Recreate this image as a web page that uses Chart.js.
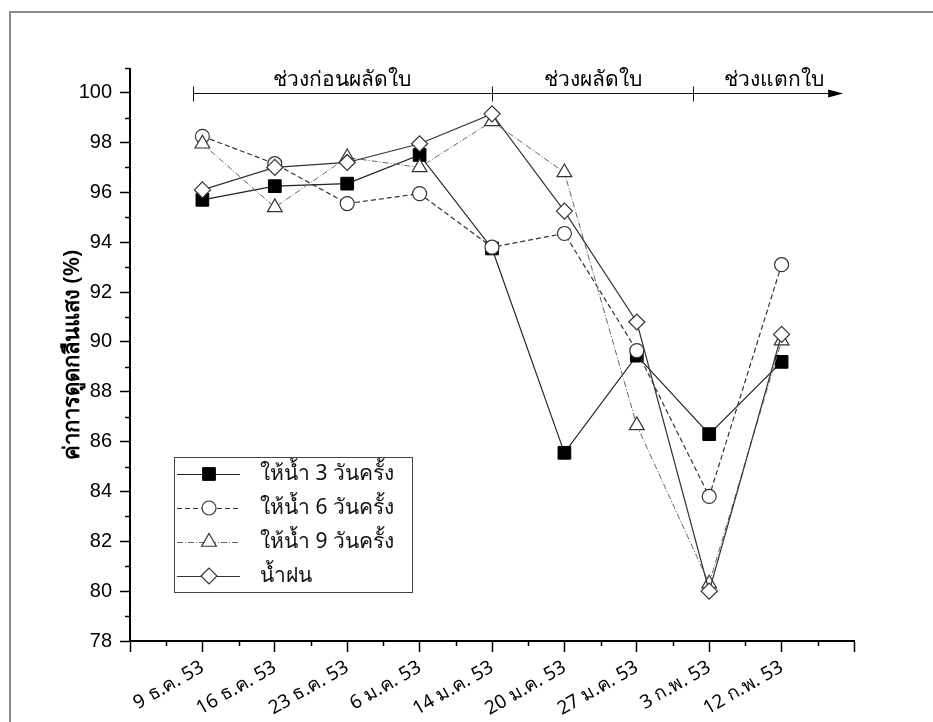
<!DOCTYPE html>
<html>
<head>
<meta charset="utf-8">
<script src="https://cdn.jsdelivr.net/npm/chart.js@4.4.0/dist/chart.umd.min.js"></script>
<style>
  body { margin: 0; background: #fff; }
  #wrap { width: 933px; height: 722px; }
</style>
</head>
<body>
<div id="wrap"><canvas id="ChartLineAbsorb" width="933" height="722"></canvas></div>
<script>
// วันที่เก็บตัวอย่าง
const dateLabels = ['9 ธ.ค. 53', '16 ธ.ค. 53', '23 ธ.ค. 53', '6 ม.ค. 53', '14 ม.ค. 53',
                    '20 ม.ค. 53', '27 ม.ค. 53', '3 ก.พ. 53', '12 ก.พ. 53'];
const seriesNames = ['ให้น้ำ 3 วันครั้ง', 'ให้น้ำ 6 วันครั้ง', 'ให้น้ำ 9 วันครั้ง', 'น้ำฝน'];

// ค่าการดูดกลืนแสง (%)
const water3 = [95.7, 96.25, 96.35, 97.5, 93.75, 85.55, 89.45, 86.3, 89.2];
const water6 = [98.25, 97.15, 95.55, 95.95, 93.8, 94.35, 89.65, 83.8, 93.1];
const water9 = [97.95, 95.4, 97.4, 97.0, 98.85, 96.8, 86.65, 80.3, 90.05];
const rain   = [96.1, 97.0, 97.2, 97.95, 99.15, 95.25, 90.8, 80.0, 90.3];

// ช่วงการเจริญเติบโต (ตำแหน่งบนแกนวันที่)
const phaseNames = ['ช่วงก่อนผลัดใบ', 'ช่วงผลัดใบ', 'ช่วงแตกใบ'];
const phaseBounds = [-0.13, 4, 6.78, 8.85];

const yTicks = [78, 80, 82, 84, 86, 88, 90, 92, 94, 96, 98, 100];

const thaiFont = "Tahoma, 'Noto Sans', 'DejaVu Sans', sans-serif";

function toPoints(arr) {
    return arr.map(function (v, i) { return { x: i, y: v }; });
}

// แกนรอง + เส้นลูกศรช่วง + กรอบ + คำอธิบาย
const extrasPlugin = {
    id: 'extras',
    afterDraw: function (chart) {
        const ctx = chart.ctx;
        const xs = chart.scales.x, ys = chart.scales.y;
        const area = chart.chartArea;
        ctx.save();

        // กรอบรูป
        ctx.strokeStyle = '#8a8a8a';
        ctx.lineWidth = 2;
        ctx.beginPath();
        ctx.moveTo(10, chart.height);
        ctx.lineTo(10, 12);
        ctx.lineTo(chart.width, 12);
        ctx.stroke();

        // minor ticks
        ctx.strokeStyle = '#000';
        ctx.lineWidth = 1.5;
        ctx.beginPath();
        for (let v = -0.5; v < 9; v += 1) {
            const px = Math.round(xs.getPixelForValue(v)) + 0.5;
            ctx.moveTo(px, area.bottom);
            ctx.lineTo(px, area.bottom + 5);
        }
        for (let v = 79; v <= 101; v += 2) {
            const py = Math.round(ys.getPixelForValue(v)) + 0.5;
            ctx.moveTo(area.left, py);
            ctx.lineTo(area.left - 5, py);
        }
        ctx.stroke();

        // เส้นลูกศรช่วง
        const ay = Math.round(ys.getPixelForValue(100)) + 0.5;
        const x0 = xs.getPixelForValue(phaseBounds[0]);
        const xEnd = xs.getPixelForValue(phaseBounds[phaseBounds.length - 1]);
        ctx.lineWidth = 1;
        ctx.strokeStyle = '#111';
        ctx.beginPath();
        ctx.moveTo(x0, ay);
        ctx.lineTo(xEnd - 12, ay);
        for (let i = 0; i < phaseBounds.length - 1; i++) {
            const px = Math.round(xs.getPixelForValue(phaseBounds[i])) + 0.5;
            ctx.moveTo(px, ay - 7);
            ctx.lineTo(px, ay + 8);
        }
        ctx.stroke();
        ctx.fillStyle = '#000';
        ctx.beginPath();
        ctx.moveTo(xEnd, ay);
        ctx.lineTo(xEnd - 15, ay - 4);
        ctx.lineTo(xEnd - 15, ay + 4);
        ctx.closePath();
        ctx.fill();

        ctx.font = '21px ' + thaiFont;
        ctx.textAlign = 'center';
        ctx.textBaseline = 'alphabetic';
        for (let i = 0; i < phaseNames.length; i++) {
            const a = xs.getPixelForValue(phaseBounds[i]);
            const b = i === phaseNames.length - 1 ? xs.getPixelForValue(9) : xs.getPixelForValue(phaseBounds[i + 1]);
            ctx.fillText(phaseNames[i], (a + b) / 2, ay - 8);
        }

        // คำอธิบายสัญลักษณ์
        const lx = area.left + 44, ly = area.top + 388;
        ctx.lineWidth = 1;
        ctx.strokeStyle = '#444';
        ctx.strokeRect(lx + 0.5, ly + 0.5, 238, 135);
        chart.data.datasets.forEach(function (ds, i) {
            const cy = ly + 17 + i * 34;
            ctx.save();
            ctx.strokeStyle = ds.borderColor;
            ctx.lineWidth = ds.borderWidth;
            ctx.setLineDash(ds.borderDash || []);
            ctx.beginPath();
            ctx.moveTo(lx + 3, cy + 0.5);
            ctx.lineTo(lx + 66, cy + 0.5);
            ctx.stroke();
            ctx.restore();
            ctx.save();
            ctx.fillStyle = ds.pointBackgroundColor;
            ctx.strokeStyle = ds.pointBorderColor;
            ctx.lineWidth = ds.pointBorderWidth;
            Chart.helpers.drawPoint(ctx, {
                pointStyle: ds.pointStyle,
                radius: ds.pointRadius,
                borderWidth: ds.pointBorderWidth
            }, lx + 35, cy);
            ctx.restore();
            ctx.fillStyle = '#111';
            ctx.font = '21px ' + thaiFont;
            ctx.textAlign = 'left';
            ctx.textBaseline = 'middle';
            ctx.fillText(ds.label, lx + 86, cy);
        });
        ctx.restore();
    }
};

const ctx = document.getElementById('ChartLineAbsorb').getContext('2d');
const myChart = new Chart(ctx, {
    type: 'scatter',
    data: {
        datasets: [{
            label: seriesNames[0],
            data: toPoints(water3),
            showLine: true,
            borderColor: '#222',
            borderWidth: 1.2,
            pointStyle: 'rect',
            pointRadius: 9,
            pointBackgroundColor: '#000',
            pointBorderColor: '#000',
            pointBorderWidth: 1,
            order: 4
        }, {
            label: seriesNames[1],
            data: toPoints(water6),
            showLine: true,
            borderColor: '#333',
            borderWidth: 1.2,
            borderDash: [5, 3],
            pointStyle: 'circle',
            pointRadius: 7,
            pointBackgroundColor: '#fff',
            pointBorderColor: '#333',
            pointBorderWidth: 1.2,
            order: 3
        }, {
            label: seriesNames[2],
            data: toPoints(water9),
            showLine: true,
            borderColor: '#666',
            borderWidth: 1,
            borderDash: [6, 2, 1, 2],
            pointStyle: 'triangle',
            pointRadius: 8.5,
            pointBackgroundColor: '#fff',
            pointBorderColor: '#333',
            pointBorderWidth: 1.2,
            order: 2
        }, {
            label: seriesNames[3],
            data: toPoints(rain),
            showLine: true,
            borderColor: '#333',
            borderWidth: 1.2,
            pointStyle: 'rectRot',
            pointRadius: 8,
            pointBackgroundColor: '#fff',
            pointBorderColor: '#333',
            pointBorderWidth: 1.2,
            order: 1
        }]
    },
    options: {
        responsive: false,
        animation: false,
        layout: { padding: { left: 0, top: 69, right: 79, bottom: 0 } },
        plugins: {
            legend: { display: false },
            tooltip: { enabled: false }
        },
        scales: {
            x: {
                type: 'linear',
                min: -1,
                max: 9,
                afterFit: function (s) { s.height = 81; },
                ticks: {
                    stepSize: 1,
                    autoSkip: false,
                    minRotation: 30,
                    maxRotation: 30,
                    padding: 4,
                    color: '#000',
                    font: { family: thaiFont, size: 19 },
                    callback: function (v) {
                        return Number.isInteger(v) && dateLabels[v] ? dateLabels[v] : '';
                    }
                },
                grid: {
                    drawOnChartArea: false,
                    tickLength: 11,
                    tickColor: '#000',
                    tickWidth: 1.5
                },
                border: { color: '#000', width: 2 }
            },
            y: {
                min: 78,
                max: 100.95,
                afterFit: function (s) { s.width = 130; },
                afterBuildTicks: function (s) {
                    s.ticks = yTicks.map(function (v) { return { value: v }; });
                },
                ticks: {
                    padding: 8,
                    color: '#000',
                    font: { family: "'Liberation Sans', Arial, sans-serif", size: 20 }
                },
                grid: {
                    drawOnChartArea: false,
                    tickLength: 10,
                    tickColor: '#000',
                    tickWidth: 1.5
                },
                border: { color: '#000', width: 2 },
                title: {
                    display: true,
                    text: 'ค่าการดูดกลืนแสง (%)',
                    color: '#000',
                    font: { family: thaiFont, size: 22, weight: '600' },
                    padding: { top: 60, bottom: 0 }
                }
            }
        }
    },
    plugins: [extrasPlugin]
});
</script>
</body>
</html>
